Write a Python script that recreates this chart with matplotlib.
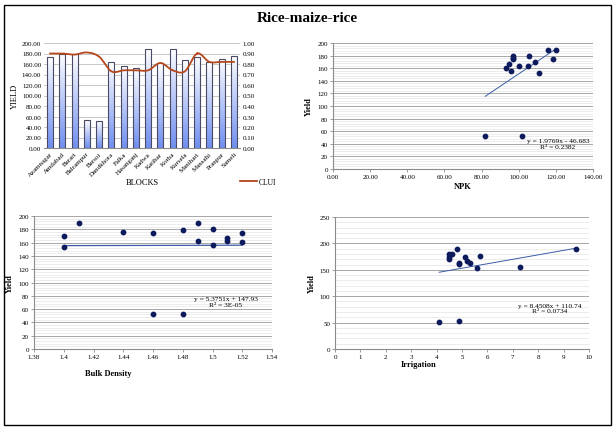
import numpy as np
import matplotlib
matplotlib.use("Agg")
import matplotlib.pyplot as plt
from matplotlib.patches import Rectangle
from matplotlib.colors import LinearSegmentedColormap

plt.rcParams['font.family'] = ['Liberation Serif', 'DejaVu Serif']

blocks = ["Azamnagar", "Amdabad", "Barari", "Balrampur", "Barsoi", "Dandkhora",
          "Falka", "Hasanganj", "Kadwa", "Katihar", "Korha", "Kursela",
          "Manihari", "Mansahi", "Pranpur", "Sameli"]
yield_vals = [174, 180, 179, 53, 52, 163, 156, 153, 189, 161, 189, 167, 174, 163, 170, 176]
clui = [0.90, 0.90, 0.89, 0.91, 0.87, 0.73, 0.74, 0.74, 0.74, 0.81, 0.74, 0.73,
        0.90, 0.82, 0.82, 0.82]
npk = [97, 97, 105.5, 101.5, 82, 105, 96, 111, 116, 93, 120, 95, 118.5, 100, 108.5, 97]
bulk_density = [1.46, 1.50, 1.48, 1.48, 1.46, 1.49, 1.50, 1.40, 1.41, 1.52, 1.49, 1.51,
                1.52, 1.51, 1.40, 1.44]
irrigation = [4.5, 4.5, 4.6, 4.9, 4.1, 4.9, 7.3, 5.6, 4.8, 4.9, 9.5, 5.2, 5.1, 5.3, 4.5, 5.7]

npk_fit = (1.9769, -46.683)
bd_fit = (5.3751, 147.93)
irr_fit = (8.4508, 110.74)
npk_eq = ["y = 1.9769x - 46.683", "R² = 0.2382"]
bd_eq = ["y = 5.3751x + 147.93", "R² = 3E-05"]
irr_eq = ["y = 8.4508x + 110.74", "R² = 0.0734"]

W, H = 615, 431
fig = plt.figure(figsize=(W / 100, H / 100), dpi=100)


def ax_px(l, t, r, b):
    return fig.add_axes([l / W, 1 - b / H, (r - l) / W, (b - t) / H])


def fig_text(x, y, s, **kw):
    fig.text(x / W, 1 - y / H, s, **kw)


# outer frame
fig.patches.append(Rectangle((4 / W, 1 - 426 / H), 607 / W, 420 / H, transform=fig.transFigure,
                             fill=False, edgecolor='black', linewidth=1.0))
fig_text(307, 18, "Rice-maize-rice", ha='center', va='center', fontsize=11, fontweight='bold')

TS = 5.0
grid_major = '#a6a6a6'
grid_minor = '#e4e4e4'
pt_color = '#0d1a5c'
line_color = '#3b5ca8'


def style_scatter(ax):
    ax.set_axisbelow(True)
    for s in ['top', 'right']:
        ax.spines[s].set_visible(False)
    for s in ['left', 'bottom']:
        ax.spines[s].set_color('#8c8c8c')
        ax.spines[s].set_linewidth(0.8)
    ax.tick_params(labelsize=TS, length=2, width=0.6, color='#8c8c8c', pad=1.5)
    ax.tick_params(which='minor', length=0)
    ax.grid(axis='y', which='major', color=grid_major, linewidth=0.7)
    ax.grid(axis='y', which='minor', color=grid_minor, linewidth=0.5)


# ---------- Bar chart ----------
ax1 = ax_px(44, 44, 240, 149)
x = np.arange(len(blocks))
bars = ax1.bar(x, yield_vals, width=0.5, edgecolor='#4a4a66', linewidth=0.8, facecolor='none', zorder=3)
grad = np.linspace(0, 1, 256).reshape(-1, 1)
cmap = LinearSegmentedColormap.from_list('g', ['#ffffff', '#6f8ff0'])
for b in bars:
    bx, by, bw, bh = b.get_x(), b.get_y(), b.get_width(), b.get_height()
    im = ax1.imshow(grad, extent=[bx, bx + bw, by, by + bh], origin='upper', aspect='auto',
                    cmap=cmap, zorder=2)
    im.set_clip_path(b)
ax1.set_xlim(-0.5, len(blocks) - 0.5)
ax1.set_ylim(0, 200)
ax1.set_yticks(np.arange(0, 201, 20))
ax1.set_yticklabels([f"{v:.2f}" for v in np.arange(0, 201, 20)])
ax1.set_xticks(x)
ax1.set_xticklabels(blocks, rotation=45, ha='right', rotation_mode='anchor')
ax1.grid(axis='y', color='#bfbfbf', linewidth=0.6)
ax1.set_axisbelow(True)
for s in ['top', 'right', 'left']:
    ax1.spines[s].set_visible(False)
ax1.spines['bottom'].set_color('#8c8c8c')
ax1.tick_params(labelsize=TS, length=0, pad=2)
ax1.set_ylabel("YIELD", fontsize=6, labelpad=2)
ax1.set_xlabel("BLOCKS", fontsize=6, labelpad=1)

ax2 = ax1.twinx()
# smooth (Catmull-Rom) rendering through the CLUI points
xs, ys = [], []
P = np.array(clui)
Xp = x.astype(float)
Pp = np.concatenate([[P[0]], P, [P[-1]]])
Xe = np.concatenate([[Xp[0] - 1], Xp, [Xp[-1] + 1]])
for i in range(1, len(Pp) - 2):
    t = np.linspace(0, 1, 20)
    p0, p1, p2, p3 = Pp[i - 1], Pp[i], Pp[i + 1], Pp[i + 2]
    yy = 0.5 * ((2 * p1) + (-p0 + p2) * t + (2 * p0 - 5 * p1 + 4 * p2 - p3) * t ** 2
                + (-p0 + 3 * p1 - 3 * p2 + p3) * t ** 3)
    xs.extend(Xe[i] + t)
    ys.extend(yy)
line, = ax2.plot(xs, ys, color='#b5471b', linewidth=1.3, label='CLUI')
ax2.set_ylim(0, 1.0)
ax2.set_yticks(np.arange(0, 1.01, 0.1))
ax2.set_yticklabels([f"{v:.2f}" for v in np.arange(0, 1.01, 0.1)])
for s in ax2.spines.values():
    s.set_visible(False)
ax2.tick_params(labelsize=TS, length=0, pad=2)
fig.legend(handles=[line], labels=['CLUI'], loc='center left',
           bbox_to_anchor=(240 / W, 1 - 183 / H), frameon=False, fontsize=5.5,
           handlelength=2.2, handletextpad=0.3, borderaxespad=0, borderpad=0)

# ---------- NPK scatter ----------
ax3 = ax_px(333, 44, 593, 170)
ax3.scatter(npk, yield_vals, s=10, color=pt_color, zorder=3)
xl = np.array([min(npk), max(npk)])
ax3.plot(xl, npk_fit[0] * xl + npk_fit[1], color=line_color, linewidth=0.7, zorder=2)
ax3.set_xlim(0, 140)
ax3.set_ylim(0, 200)
ax3.set_xticks(np.arange(0, 141, 20))
ax3.set_xticklabels([f"{v:.2f}" for v in np.arange(0, 141, 20)])
ax3.set_yticks(np.arange(0, 201, 20))
ax3.set_yticks(np.arange(0, 201, 4), minor=True)
style_scatter(ax3)
ax3.set_xlabel("NPK", fontsize=6, fontweight='bold', labelpad=2)
ax3.set_ylabel("Yield", fontsize=6, fontweight='bold', labelpad=3)
ax3.text(0.985, 0.2, npk_eq[0] + "\n" + npk_eq[1], transform=ax3.transAxes, ha='right',
         va='center', fontsize=5.3, multialignment='center')

# ---------- Bulk density scatter ----------
ax4 = ax_px(34, 217, 272, 350)
ax4.scatter(bulk_density, yield_vals, s=10, color=pt_color, zorder=3)
xl = np.array([min(bulk_density), max(bulk_density)])
ax4.plot(xl, bd_fit[0] * xl + bd_fit[1], color=line_color, linewidth=0.9, zorder=2)
ax4.set_xlim(1.38, 1.54)
ax4.set_ylim(0, 200)
xt = [1.38, 1.4, 1.42, 1.44, 1.46, 1.48, 1.5, 1.52, 1.54]
ax4.set_xticks(xt)
ax4.set_xticklabels([f"{v:g}" for v in xt])
ax4.set_yticks(np.arange(0, 201, 20))
ax4.set_yticks(np.arange(0, 201, 4), minor=True)
style_scatter(ax4)
ax4.set_xlabel("Bulk Density", fontsize=6, fontweight='bold')
ax4.xaxis.set_label_coords(0.31, -0.15)
ax4.set_ylabel("Yield", fontsize=6, fontweight='bold', labelpad=3)
ax4.text(0.94, 0.36, bd_eq[0] + "\n" + bd_eq[1], transform=ax4.transAxes, ha='right',
         va='center', fontsize=5.3, multialignment='center')

# ---------- Irrigation scatter ----------
ax5 = ax_px(335, 218, 589, 350)
ax5.scatter(irrigation, yield_vals, s=10, color=pt_color, zorder=3)
xl = np.array([min(irrigation), max(irrigation)])
ax5.plot(xl, irr_fit[0] * xl + irr_fit[1], color=line_color, linewidth=0.7, zorder=2)
ax5.set_xlim(0, 10)
ax5.set_ylim(0, 250)
ax5.set_xticks(np.arange(0, 11, 1))
ax5.set_yticks(np.arange(0, 251, 50))
ax5.set_yticks(np.arange(0, 251, 10), minor=True)
style_scatter(ax5)
ax5.set_xlabel("Irrigation", fontsize=6, fontweight='bold')
ax5.xaxis.set_label_coords(0.33, -0.085)
ax5.set_ylabel("Yield", fontsize=6, fontweight='bold', labelpad=3)
ax5.text(0.97, 0.31, irr_eq[0] + "\n" + irr_eq[1], transform=ax5.transAxes, ha='right',
         va='center', fontsize=5.3, multialignment='center')

fig.savefig("out.png", dpi=100)
